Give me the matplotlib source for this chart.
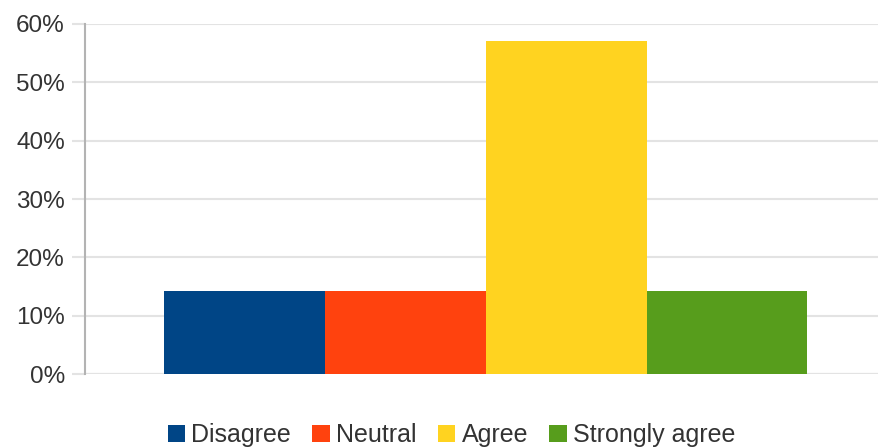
import matplotlib.pyplot as plt
from matplotlib.patches import Patch
from matplotlib.ticker import PercentFormatter

# survey answers, share of respondents (%)
categories = ["Disagree", "Neutral", "Agree", "Strongly agree"]
shares = [14.3, 14.3, 57.1, 14.3]
colors = ["#004586", "#ff420e", "#ffd320", "#579d1c"]
y_ticks = [0, 10, 20, 30, 40, 50, 60]

plt.rcParams["font.family"] = ["Liberation Sans", "DejaVu Sans"]

fig = plt.figure(figsize=(8.8, 4.48), dpi=100)
ax = fig.add_axes([0.0966, 0.165, 0.9014, 0.7815])

x = list(range(len(categories)))
ax.bar(x, shares, width=1.0, color=colors, zorder=3)

ax.set_xlim(-0.99, 3.94)
ax.set_ylim(0, 60)
ax.set_yticks(y_ticks)
ax.yaxis.set_major_formatter(PercentFormatter(decimals=0))
ax.set_xticks([])

ax.grid(axis="y", color="#e3e3e3", linewidth=1.5, zorder=0)
for side in ("top", "right", "bottom"):
    ax.spines[side].set_visible(False)
ax.spines["left"].set_color("#b3b3b3")
ax.spines["left"].set_linewidth(1.5)
ax.axhline(0, color="#e3e3e3", linewidth=1.5, zorder=1)
ax.tick_params(axis="y", length=9.5, width=1.5, color="#e3e3e3",
               labelsize=17.5, labelcolor="#333333", pad=5)

handles = [Patch(facecolor=c, edgecolor="none") for c in colors]
fig.legend(handles, categories, loc="center", bbox_to_anchor=(0.513, 0.029),
           ncol=4, frameon=False, fontsize=18, handlelength=0.7,
           handleheight=0.7, handletextpad=0.25, columnspacing=0.85,
           labelcolor="#333333", borderpad=0.2)

fig.savefig("out.png", dpi=100)
